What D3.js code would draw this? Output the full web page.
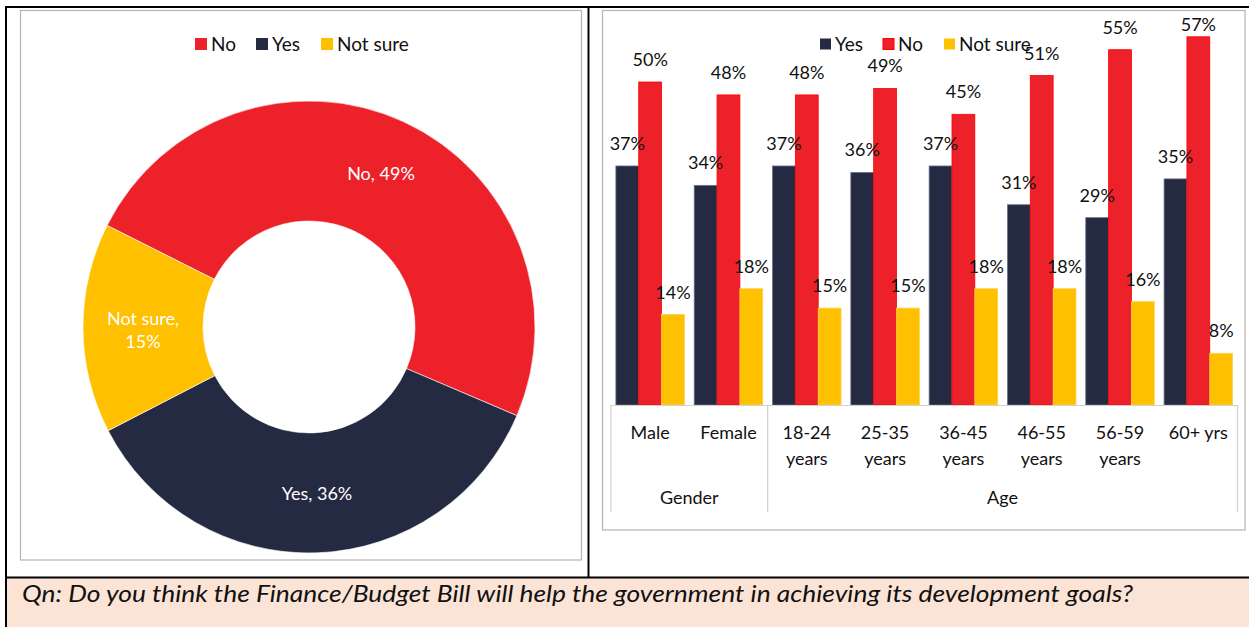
<!DOCTYPE html>
<html>
<head>
<meta charset="utf-8">
<script src="https://cdn.jsdelivr.net/npm/d3@7"></script>
<style>
  html, body { margin: 0; padding: 0; background: #fff; }
  svg { display: block; font-family: Lato, "Open Sans", sans-serif; }
</style>
</head>
<body>
<svg id="chart" width="1249" height="627"></svg>
<script>
// ---------- data ----------
const pieLabels = ["No", "Yes", "Not sure"];
const pieValues = [49, 36, 15];

const categories = ["Male", "Female", "18-24\nyears", "25-35\nyears", "36-45\nyears", "46-55\nyears", "56-59\nyears", "60+ yrs"];
const groupNames = ["Gender", "Age"];
const groupSizes = [2, 6];
const seriesNames = ["Yes", "No", "Not sure"];
const yesValues = [37, 34, 37, 36, 37, 31, 29, 35];
const noValues = [50, 48, 48, 49, 45, 51, 55, 57];
const notSureValues = [14, 18, 15, 15, 18, 18, 16, 8];
const questionText = "Qn: Do you think the Finance/Budget Bill will help the government in achieving its development goals?";

const colors = { "No": "#ED2129", "Yes": "#252A43", "Not sure": "#FFC000" };
const strokes = { "No": "#FF0000", "Yes": "#6b7086", "Not sure": "#FFD24D" };

const svg = d3.select("#chart");

// ---------- frame ----------
svg.append("rect").attr("x", 6).attr("y", 578).attr("width", 1243).attr("height", 49).attr("fill", "#FBE4D6");
const black = "#000";
svg.append("line").attr("x1", 5).attr("x2", 1249).attr("y1", 7).attr("y2", 7).attr("stroke", black).attr("stroke-width", 2);
svg.append("line").attr("x1", 6).attr("x2", 6).attr("y1", 6).attr("y2", 627).attr("stroke", black).attr("stroke-width", 2);
svg.append("line").attr("x1", 588.5).attr("x2", 588.5).attr("y1", 6).attr("y2", 577).attr("stroke", black).attr("stroke-width", 2);
svg.append("line").attr("x1", 5).attr("x2", 1249).attr("y1", 577.5).attr("y2", 577.5).attr("stroke", black).attr("stroke-width", 2);

// chart boxes
svg.append("rect").attr("x", 20.5).attr("y", 10.5).attr("width", 561).attr("height", 549.5)
  .attr("fill", "#fff").attr("stroke", "#b4b4b4").attr("stroke-width", 1.2);
svg.append("rect").attr("x", 602.5).attr("y", 10.5).attr("width", 642.5).attr("height", 519.5)
  .attr("fill", "#fff").attr("stroke", "#b4b4b4").attr("stroke-width", 1.2);

// question
svg.append("text").attr("x", 22).attr("y", 602)
  .attr("font-style", "italic").attr("font-size", 24).attr("fill", "#111")
  .attr("textLength", 1111).attr("lengthAdjust", "spacingAndGlyphs")
  .text(questionText);

// ---------- donut ----------
const cx = 309, cy = 327, rOuter = 226, rInner = 106;
const startA = -63.3 * Math.PI / 180;
const pie = d3.pie().sort(null).startAngle(startA).endAngle(startA + 2 * Math.PI);
const arcs = pie(pieValues);
const arc = d3.arc().innerRadius(rInner).outerRadius(rOuter);
const gPie = svg.append("g").attr("transform", `translate(${cx},${cy})`);
gPie.selectAll("path").data(arcs).join("path")
  .attr("d", arc)
  .attr("fill", (d, i) => colors[pieLabels[i]])
  .attr("stroke", "#fff").attr("stroke-width", 0.6);

// donut labels
arcs.forEach((d, i) => {
  const t = gPie.append("text").attr("fill", "#fff").attr("font-size", 18).attr("text-anchor", "middle");
  const lbl = pieLabels[i] + ", " + pieValues[i] + "%";
  if (pieLabels[i] === "Not sure") {
    t.append("tspan").attr("x", -166).attr("y", -2).text(pieLabels[i] + ",");
    t.append("tspan").attr("x", -166).attr("y", 21).text(pieValues[i] + "%");
  } else if (pieLabels[i] === "No") {
    t.attr("x", 72).attr("y", -147).text(lbl);
  } else {
    t.attr("x", 8).attr("y", 173).text(lbl);
  }
});

// pie legend
const pieLegendX = [195, 256, 321];
const gPL = svg.append("g");
pieLabels.forEach((name, i) => {
  gPL.append("rect").attr("x", pieLegendX[i]).attr("y", 38).attr("width", 12).attr("height", 12).attr("fill", colors[name]);
  gPL.append("text").attr("x", pieLegendX[i] + 16).attr("y", 50.5).attr("font-size", 19).attr("fill", "#111").text(name);
});

// ---------- bar chart ----------
const x0 = d3.scaleBand().domain(categories).range([611, 1237.5]).paddingInner(0.125).paddingOuter(0.0625);
const x1 = d3.scaleBand().domain(seriesNames).range([0, x0.bandwidth()]).padding(0);
const y = d3.scaleLinear().domain([0, 60]).range([405, 405 - 60 * 6.46]);
const seriesValues = { "Yes": yesValues, "No": noValues, "Not sure": notSureValues };

const gBars = svg.append("g");
seriesNames.forEach(s => {
  gBars.selectAll(null).data(categories).join("rect")
    .attr("x", c => x0(c) + x1(s))
    .attr("y", (c, i) => y(seriesValues[s][i]))
    .attr("width", x1.bandwidth())
    .attr("height", (c, i) => y(0) - y(seriesValues[s][i]))
    .attr("fill", colors[s])
    .attr("stroke", strokes[s]).attr("stroke-width", 0.8);
});
// value labels (kept inside plot area at the top, as the original does)
seriesNames.forEach(s => {
  gBars.selectAll(null).data(categories).join("text")
    .attr("x", c => x0(c) + x1(s) + x1.bandwidth() / 2)
    .attr("y", (c, i) => Math.max(y(seriesValues[s][i]) - 16, 31))
    .attr("text-anchor", "middle").attr("font-size", 18).attr("fill", "#111")
    .text((c, i) => seriesValues[s][i] + "%");
});

// category axis (multi-level)
const axisColor = "#d0d0d0";
svg.append("line").attr("x1", 611).attr("x2", 1237.5).attr("y1", 405.5).attr("y2", 405.5).attr("stroke", axisColor).attr("stroke-width", 1.2);
let idx = 0;
const sepIdx = [0];
groupSizes.forEach(n => { idx += n; sepIdx.push(idx); });
const step = x0.step();
const axisStart = 611;
sepIdx.forEach(k => {
  const xx = axisStart + k * step;
  svg.append("line").attr("x1", xx).attr("x2", xx).attr("y1", 405).attr("y2", 512).attr("stroke", axisColor).attr("stroke-width", 1.2);
});
categories.forEach(c => {
  const lines = c.split("\n");
  const cxb = x0(c) + x0.bandwidth() / 2;
  lines.forEach((ln, j) => {
    svg.append("text").attr("x", cxb).attr("y", 439 + j * 26)
      .attr("text-anchor", "middle").attr("font-size", 18).attr("fill", "#111").text(ln);
  });
});
let acc = 0;
groupNames.forEach((g, i) => {
  const a = axisStart + acc * step, b = axisStart + (acc + groupSizes[i]) * step;
  acc += groupSizes[i];
  svg.append("text").attr("x", (a + b) / 2).attr("y", 504)
    .attr("text-anchor", "middle").attr("font-size", 18).attr("fill", "#111").text(g);
});

// bar legend (drawn last, over labels)
const barLegendX = [820, 883, 944];
seriesNames.forEach((name, i) => {
  svg.append("rect").attr("x", barLegendX[i]).attr("y", 38.5).attr("width", 11).attr("height", 11)
    .attr("fill", colors[name]).attr("stroke", name === "No" ? "#FF0000" : "none").attr("stroke-width", 1);
  svg.append("text").attr("x", barLegendX[i] + 15).attr("y", 50.5).attr("font-size", 19).attr("fill", "#111").text(name);
});
</script>
</body>
</html>
